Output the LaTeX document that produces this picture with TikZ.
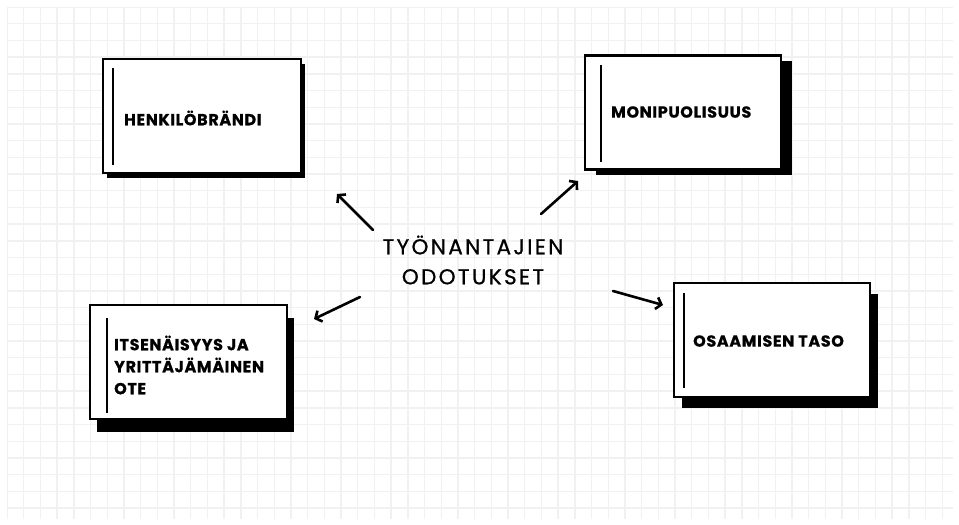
\documentclass[tikz,border=0pt]{standalone}
\usepackage{fontspec}
\setmainfont{Poppins}
\usetikzlibrary{arrows.meta,shadows}
\definecolor{gridline}{HTML}{F3F0F1}
\tikzset{
  card/.style={draw=black, line width=2.4pt, fill=white, minimum width=#1, minimum height=114pt, inner sep=0pt},
  bar/.style={line width=2.4pt},
  label/.style={anchor=west, align=left, inner sep=0pt,
    font=\bfseries\fontsize{16}{22}\selectfont\addfontfeature{LetterSpace=4,FakeBold=0.6}},
  hub/.style={align=center, inner sep=0pt,
    font=\fontsize{21.5}{30}\selectfont\addfontfeature{LetterSpace=11,FakeBold=0.8}},
  pointer/.style={line width=2.6pt, -{Straight Barb[length=5pt,width=12pt,line width=2.6pt]}, line cap=round}
}
\begin{document}
\begin{tikzpicture}[x=1pt,y=-1pt]
  \useasboundingbox (0,0) rectangle (959,525);
  \fill[white] (0,0) rectangle (959,525);
  % squared paper
  \begin{scope}
    \clip (7,7) rectangle (953,519);
    \foreach \i in {0,...,57} \draw[gridline, line width=1.4pt] (7+16.7*\i,7) -- (7+16.7*\i,519);
    \foreach \j in {0,...,31} \draw[gridline, line width=1.4pt] (7,7+16.7*\j) -- (953,7+16.7*\j);
  \end{scope}

  % cards with solid offset shadows
  \node[card=198pt, drop shadow={shadow xshift=4pt, shadow yshift=-5pt, fill=black, opacity=1}] (b1) at (202,116) {};
  \node[card=196pt, drop shadow={shadow xshift=11pt, shadow yshift=-5pt, fill=black, opacity=1}] (b2) at (683,112.5) {};
  \node[card=197pt, drop shadow={shadow xshift=7pt, shadow yshift=-13pt, fill=black, opacity=1}] (b3) at (188.5,362) {};
  \node[card=196pt, drop shadow={shadow xshift=8pt, shadow yshift=-11pt, fill=black, opacity=1}] (b4) at (772,340) {};

  % vertical accent bars
  \draw[bar] (113,68) -- (113,165);
  \draw[bar] (601,65) -- (601,162);
  \draw[bar] (107,318) -- (107,413);
  \draw[bar] (684,293) -- (684,388);

  % card labels
  \node[label] (t1) at (124,118) {HENKILÖBRÄNDI};
  \node[label] (t2) at (611,112) {MONIPUOLISUUS};
  \node[label] (t3) at (114,365) {ITSENÄISYYS JA\\YRITTÄJÄMÄINEN\\OTE};
  \node[label] (t4) at (693,341) {OSAAMISEN TASO};

  % central topic
  \node[hub] (hub) at (473,260) {TYÖNANTAJIEN\\ODOTUKSET};

  % arrows radiating from the topic
  \coordinate (s1) at (373,230); \coordinate (e1) at (337,194);
  \coordinate (s2) at (541,214); \coordinate (e2) at (578,181);
  \coordinate (s3) at (360,297); \coordinate (e3) at (314,319);
  \coordinate (s4) at (613,291); \coordinate (e4) at (663,305);
  \draw[pointer] (s1) -- (e1);
  \draw[pointer] (s2) -- (e2);
  \draw[pointer] (s3) -- (e3);
  \draw[pointer] (s4) -- (e4);
\end{tikzpicture}
\end{document}
